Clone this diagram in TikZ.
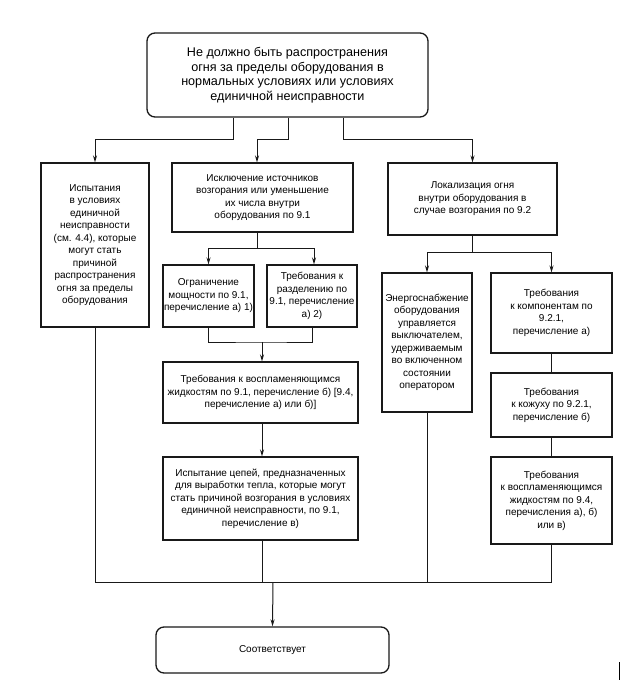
\documentclass[tikz,border=0pt]{standalone}
\usepackage{fontspec}
\setmainfont{Liberation Sans}
\usetikzlibrary{arrows.meta}
\begin{document}
\begin{tikzpicture}[x=1pt,y=-1pt,
  box/.style={draw=black!90, line width=1.1pt, inner sep=0pt, align=center, font=\fontsize{10}{12.5}\selectfont},
  rbox/.style={box, rounded corners=8pt, line width=1.3pt},
  conn/.style={draw=black!90, line width=1pt},
  arr/.style={conn, -{Stealth[length=7pt,width=4pt]}}]
\useasboundingbox (0,0) rectangle (620,682);
\fill[white] (0,0) rectangle (620,682);

\node[rbox, minimum width=281pt, minimum height=84pt, font=\fontsize{12.6}{14.6}\selectfont] (top) at (287.5,75)
 {Не должно быть распространения\\огня за пределы оборудования в\\нормальных условиях или условиях\\единичной неисправности};

\node[box, minimum width=108pt, minimum height=164pt] (lb) at (95,245)
 {Испытания\\в условиях\\единичной\\неисправности\\(см. 4.4), которые\\могут стать\\причиной\\распространения\\огня за пределы\\оборудования};

\node[box, minimum width=181pt, minimum height=69pt] (mb) at (262.5,197.5)
 {Исключение источников\\возгорания или уменьшение\\их числа внутри\\оборудования по 9.1};

\node[box, minimum width=169pt, minimum height=72pt] (rb) at (472.5,199)
 {Локализация огня\\внутри оборудования в\\случае возгорания по 9.2};

\node[box, minimum width=91pt, minimum height=62pt] (m1) at (208.5,296)
 {Ограничение\\мощности по 9.1,\\перечисление а) 1)};

\node[box, minimum width=90pt, minimum height=62pt] (m2) at (312,296)
 {Требования к\\разделению по\\9.1, перечисление\\а) 2)};

\node[box, minimum width=195pt, minimum height=61pt] (m3) at (260.5,392.5)
 {Требования к воспламеняющимся\\жидкостям по 9.1, перечисление б) [9.4,\\перечисление а) или б)]};

\node[box, minimum width=195pt, minimum height=83pt] (m4) at (260.5,498.5)
 {Испытание цепей, предназначенных\\для выработки тепла, которые могут\\стать причиной возгорания в условиях\\единичной неисправности, по 9.1,\\перечисление в)};

\node[box, minimum width=90pt, minimum height=139pt] (r1) at (427,342.5)
 {Энергоснабжение\\оборудования\\управляется\\выключателем,\\удерживаемым\\во включенном\\состоянии\\оператором};

\node[box, minimum width=121pt, minimum height=80pt] (r2) at (551.5,313)
 {Требования\\к компонентам по\\9.2.1,\\перечисление а)};

\node[box, minimum width=121pt, minimum height=64pt] (r3) at (551.5,405)
 {Требования\\к кожуху по 9.2.1,\\перечисление б)};

\node[box, minimum width=121pt, minimum height=87pt] (r4) at (551.5,500.5)
 {Требования\\к воспламеняющимся\\жидкостям по 9.4,\\перечисления а), б)\\или в)};

\node[rbox, minimum width=233pt, minimum height=46pt] (fin) at (272.5,650) {Соответствует};

% junctions
\coordinate (j1) at (233,139);
\coordinate (j2) at (288,139);
\coordinate (j3) at (343,139);
\coordinate (s1) at (257,248);
\coordinate (s2) at (262,342);
\coordinate (s3) at (472.5,252);
\coordinate (b) at (273,582);

\draw[arr] (top.south -| j1) -- (j1) -| (lb.north);
\draw[arr] (top.south -| j2) -- (j2) -| ([xshift=-5.5pt]mb.north);
\draw[arr] (top.south -| j3) -- (j3) -| (rb.north);

\draw[conn] (mb.south -| s1) -- (s1);
\draw[arr] (s1) -| (m1.north);
\draw[arr] (s1) -| ([xshift=2pt]m2.north);

\draw[conn] (m1.south) |- (s2) -| (m2.south);
\draw[arr] (s2) -- (s2 |- m3.north);
\draw[arr] (m3.south -| s2) -- (m4.north -| s2);

\draw[conn] (rb.south) -- (s3);
\draw[arr] (s3) -| (r1.north);
\draw[arr] (s3) -| (r2.north);

\draw[conn] (r2) -- (r3);
\draw[conn] (r3) -- (r4);

\draw[conn] (lb.south) |- (r4.south |- b) -- (r4.south);
\draw[conn] (m4.south -| s2) -- (s2 |- b);
\draw[conn] (r1.south) -- (r1.south |- b);
\draw[arr] (b) -- (fin.north);

\draw[line width=0.8pt] (619,662) -- (619,680);
\end{tikzpicture}
\end{document}
